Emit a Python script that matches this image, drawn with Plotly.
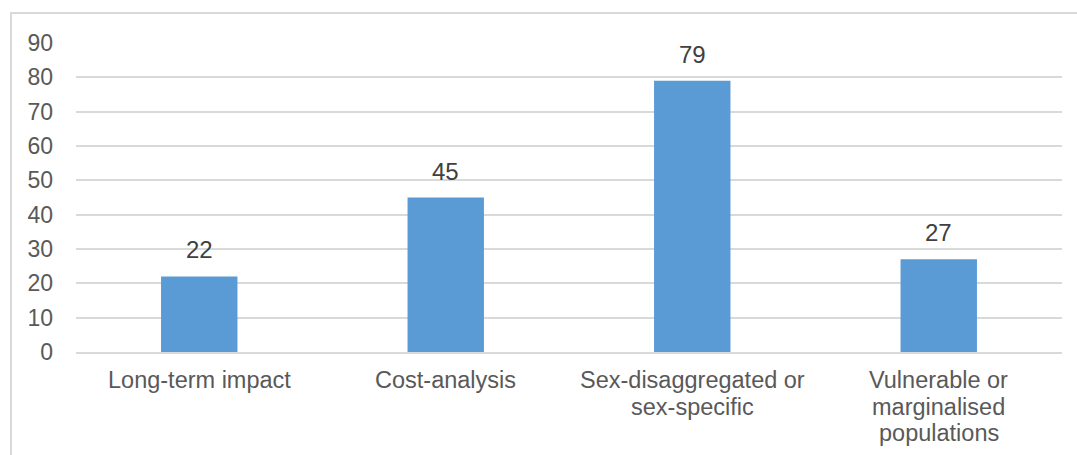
import plotly.graph_objects as go

# Number of studies by reporting characteristic
categories = [
    "Long-term impact",
    "Cost-analysis",
    "Sex-disaggregated or sex-specific",
    "Vulnerable or marginalised populations",
]
# how each category name wraps under the axis
category_lines = [
    ["Long-term impact"],
    ["Cost-analysis"],
    ["Sex-disaggregated or", "sex-specific"],
    ["Vulnerable or", "marginalised", "populations"],
]
counts = [22, 45, 79, 27]
y_ticks = [0, 10, 20, 30, 40, 50, 60, 70, 80, 90]

FONT = "Liberation Sans, Arial, sans-serif"
W, H = 1077, 455
L, R, T, B = 76, 15, 43, 103  # plot area: x 76..1062, y 43..352

fig = go.Figure(
    go.Bar(
        x=categories,
        y=counts,
        marker=dict(color="#5B9BD5", line=dict(width=0)),
        hoverinfo="x+y",
    )
)

# value labels above each bar
for cat, v in zip(categories, counts):
    fig.add_annotation(
        x=cat, y=v, xref="x", yref="y",
        text=str(v), showarrow=False,
        yanchor="bottom", yshift=11,
        font=dict(family=FONT, size=24, color="#404040"),
    )

# category labels, one annotation per wrapped line for tighter line spacing
LINE_GAP = 26.5
for cat, lines in zip(categories, category_lines):
    for i, line in enumerate(lines):
        fig.add_annotation(
            x=cat, y=0, xref="x", yref="paper",
            text=line, showarrow=False,
            yanchor="middle", yshift=-(28 + i * LINE_GAP),
            font=dict(family=FONT, size=23.5, color="#595959"),
        )

pw = W - L - R
ph = H - T - B
# light grey frame around the chart area
fig.add_shape(
    type="rect",
    xref="paper", yref="paper",
    x0=(11 - L) / pw, x1=(W + 10 - L) / pw,
    y0=-(H + 10 - (H - B)) / ph, y1=((H - B) - 13) / ph,
    line=dict(color="#D9D9D9", width=2),
    fillcolor="rgba(0,0,0,0)",
    layer="below",
)

fig.update_layout(
    width=W, height=H,
    margin=dict(l=L, r=R, t=T, b=B),
    paper_bgcolor="white",
    plot_bgcolor="white",
    bargap=0.69,
    showlegend=False,
    font=dict(family=FONT, size=22, color="#595959"),
    xaxis=dict(
        showgrid=False,
        showline=True,
        linecolor="#D9D9D9",
        linewidth=2,
        ticks="",
        showticklabels=False,
    ),
    yaxis=dict(
        range=[0, 90],
        tickvals=y_ticks,
        showgrid=True,
        gridcolor="#D9D9D9",
        gridwidth=2,
        zeroline=False,
        showline=False,
        ticks="",
        ticklabelstandoff=22,
        tickfont=dict(family=FONT, size=23, color="#595959"),
    ),
)

fig.write_html("out.html")
